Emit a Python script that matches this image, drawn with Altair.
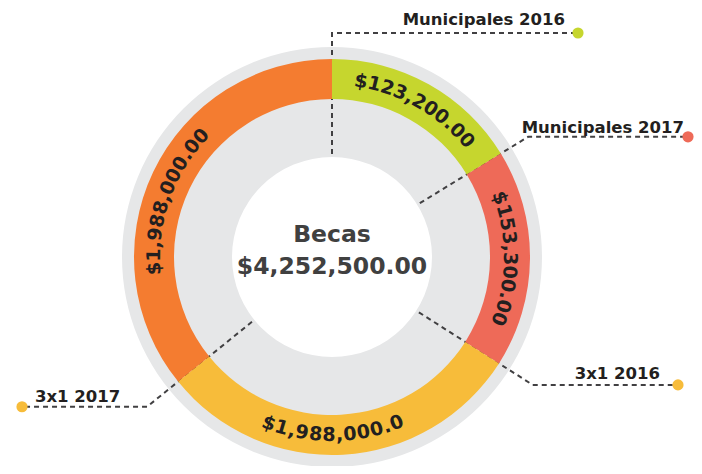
import math
import altair as alt
import pandas as pd

# ---------------- data ----------------
categories = ["Municipales 2016", "Municipales 2017", "3x1 2016", "3x1 2017"]
amounts = [123200, 153300, 1988000, 1988000]
amount_labels = ["$123,200.00", "$153,300.00", "$1,988,000.0", "$1,988,000.00"]
arc_degrees = [58.5, 64.0, 108.5, 129.0]          # segment sizes as drawn in the picture
colors = ["#c6d62e", "#ee6a58", "#f7bc3a", "#f47c30"]
dot_colors = ["#c6d62e", "#ee6a58", "#f7bc3a", "#f7bc3a"]
center_title = "Becas"

# ---------------- layout ----------------
W, H = 686, 458
CX, CY = 324, 249                     # ring centre inside the chart (px)
R_BG_OUT, R_BG_IN = 210, 100
R_OUT, R_IN = 198, 158
R_TXT = 178
FS = 19
TRACK = 0.3
CHAR_EM = {",": 0.38, ".": 0.38}      # DejaVu Sans Bold advance widths (em)
DIGIT_EM = 0.696
label_shift_deg = [0.0, 0.0, 3.0, -6.0]   # nudge of each curved label from its segment centre

lead_r_in = 103
lead_elbow_r = [224, 230, 238, 238]
lead_end_x = [246, 356, 346, -310]
label_x = [233, 352, 328, -297]
label_base = [232, 124, -122, -145]
label_align = ["right", "right", "right", "left"]

xs = alt.Scale(domain=[-CX, W - CX], range=[0, W], nice=False, zero=False)
ys = alt.Scale(domain=[CY - H, CY], range=[H, 0], nice=False, zero=False)


def polar(r, deg):
    a = math.radians(deg)
    return r * math.sin(a), r * math.cos(a)


# segment table
starts = []
c = 0.0
for d in arc_degrees:
    starts.append(c)
    c += d
seg = pd.DataFrame({"category": categories, "deg": arc_degrees, "ord": list(range(len(categories)))})

color_scale = alt.Scale(domain=categories, range=colors)

# background gray ring
bg = alt.Chart(pd.DataFrame({"v": [1]})).mark_arc(
    radius=R_BG_OUT, radius2=R_BG_IN, theta=0, theta2=2 * math.pi, color="#e6e7e8"
).encode(x=alt.value(CX), y=alt.value(CY), color=alt.value("#e6e7e8"))

# leader lines
lrows = []
for i, cat in enumerate(categories):
    th = starts[i]
    x0, y0 = polar(lead_r_in, th)
    x1, y1 = polar(lead_elbow_r[i], th)
    lrows += [
        {"category": cat, "pt": 0, "x": x0, "y": y0},
        {"category": cat, "pt": 1, "x": x1, "y": y1},
        {"category": cat, "pt": 2, "x": lead_end_x[i], "y": y1},
    ]
ldf = pd.DataFrame(lrows)
lines = alt.Chart(ldf).mark_line(strokeDash=[5, 4], strokeWidth=2, color="#414042").encode(
    x=alt.X("x:Q", scale=xs, axis=None),
    y=alt.Y("y:Q", scale=ys, axis=None),
    detail="category:N",
    order="pt:Q",
)

# coloured ring
arcs = alt.Chart(seg).mark_arc(radius=R_OUT, radius2=R_IN).encode(
    theta=alt.Theta("deg:Q", stack=True),
    order=alt.Order("ord:Q"),
    color=alt.Color("category:N", scale=color_scale, legend=None),
    x=alt.value(CX),
    y=alt.value(CY),
)

# curved value labels, one character at a time
crows = []
for i, (cat, lab) in enumerate(zip(categories, amount_labels)):
    mid = starts[i] + arc_degrees[i] / 2 + label_shift_deg[i]
    widths = [CHAR_EM.get(ch, DIGIT_EM) * FS + TRACK for ch in lab]
    L = sum(widths)
    flip = 100 < mid < 260
    s = 0.0
    for j, (ch, w) in enumerate(zip(lab, widths)):
        off = s + w / 2 - L / 2
        s += w
        dth = math.degrees(off / R_TXT)
        th = mid - dth if flip else mid + dth
        rot = (th - 180) if flip else th
        x, y = polar(R_TXT, th)
        crows.append({"ch": ch, "x": x, "y": y, "rot": rot % 360, "k": f"{i}-{j}"})
cdf = pd.DataFrame(crows)
chars = alt.Chart(cdf).mark_text(
    font="DejaVu Sans", fontWeight="bold", fontSize=FS, align="center", baseline="middle", color="#231f20"
).encode(
    x=alt.X("x:Q", scale=xs, axis=None),
    y=alt.Y("y:Q", scale=ys, axis=None),
    text="ch:N",
    angle=alt.Angle("rot:Q", scale=None),
    detail="k:N",
)

# centre text
center_df = pd.DataFrame({
    "t": [center_title, f"${sum(amounts):,.2f}"],
    "x": [0, 0],
    "y": [15, -17],
})
center = alt.Chart(center_df).mark_text(
    font="DejaVu Sans", fontWeight="bold", fontSize=23.5, align="center", baseline="alphabetic", color="#404040"
).encode(
    x=alt.X("x:Q", scale=xs, axis=None),
    y=alt.Y("y:Q", scale=ys, axis=None),
    text="t:N",
)

# category labels
lab_df = pd.DataFrame({"category": categories, "x": label_x, "y": label_base, "al": label_align})
lab_r = alt.Chart(lab_df).transform_filter(alt.datum.al == "right").mark_text(
    font="DejaVu Sans", fontWeight="bold", fontSize=16.5, align="right", baseline="alphabetic", color="#231f20"
).encode(x=alt.X("x:Q", scale=xs, axis=None), y=alt.Y("y:Q", scale=ys, axis=None), text="category:N")
lab_l = alt.Chart(lab_df).transform_filter(alt.datum.al == "left").mark_text(
    font="DejaVu Sans", fontWeight="bold", fontSize=16.5, align="left", baseline="alphabetic", color="#231f20"
).encode(x=alt.X("x:Q", scale=xs, axis=None), y=alt.Y("y:Q", scale=ys, axis=None), text="category:N")

# end dots
dot_df = pd.DataFrame({
    "category": categories,
    "x": lead_end_x,
    "y": [polar(lead_elbow_r[i], starts[i])[1] for i in range(len(categories))],
    "c": dot_colors,
})
dots = alt.Chart(dot_df).mark_circle(size=125, opacity=1).encode(
    x=alt.X("x:Q", scale=xs, axis=None),
    y=alt.Y("y:Q", scale=ys, axis=None),
    color=alt.Color("c:N", scale=None),
)

chart = alt.layer(bg, lines, arcs, chars, center, lab_r, lab_l, dots).properties(
    width=W, height=H, padding=0, autosize=alt.AutoSizeParams(type="none"), background="white"
).configure_view(stroke=None)

chart.save("out.html", embed_options={"renderer": "svg", "actions": False})
